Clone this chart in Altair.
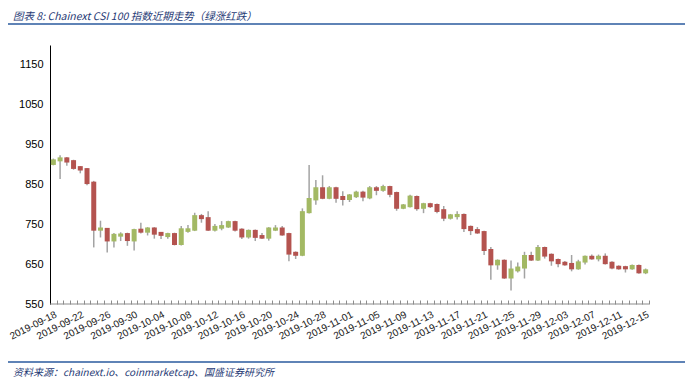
import altair as alt
import pandas as pd

# ---------------- data ----------------
dates = [d.strftime("%Y-%m-%d") for d in pd.date_range("2019-09-18", "2019-12-15")]
opens = [899, 908, 918, 911, 896, 891, 857, 734, 741, 707,
         719, 728, 707, 739, 729, 742, 731, 718, 728, 698,
         731, 734, 773, 768, 734, 739, 742, 758, 739, 717,
         736, 723, 714, 734, 742, 728, 681, 671, 778, 810,
         843, 814, 843, 821, 811, 818, 832, 815, 843, 834,
         846, 831, 789, 793, 821, 789, 803, 801, 788, 764,
         768, 776, 746, 738, 733, 688, 647, 661, 614, 632,
         639, 673, 659, 693, 676, 663, 656, 653, 637, 654,
         671, 662, 671, 656, 646, 645, 637, 648, 627]
closes = [913, 918, 905, 889, 885, 851, 734, 742, 707, 726,
          727, 708, 738, 729, 742, 724, 721, 728, 698, 740,
          740, 773, 763, 734, 746, 748, 758, 734, 717, 736,
          716, 714, 742, 742, 722, 674, 671, 783, 816, 843,
          814, 843, 814, 811, 825, 832, 817, 843, 834, 846,
          824, 789, 800, 822, 788, 803, 793, 781, 764, 775,
          776, 738, 733, 727, 683, 647, 661, 614, 639, 644,
          673, 659, 693, 669, 657, 650, 647, 637, 657, 671,
          662, 671, 650, 639, 637, 637, 648, 627, 637]
highs = [915, 923, 919, 912, 896, 891, 859, 759, 741, 728,
         730, 729, 739, 754, 743, 743, 731, 729, 729, 746,
         748, 779, 776, 783, 751, 758, 759, 759, 740, 737,
         737, 728, 743, 748, 746, 729, 682, 790, 899, 861,
         873, 846, 844, 833, 826, 834, 834, 846, 846, 849,
         847, 832, 801, 824, 822, 804, 804, 802, 796, 776,
         783, 777, 747, 743, 734, 693, 662, 662, 659, 654,
         681, 681, 698, 694, 677, 664, 658, 673, 661, 672,
         674, 674, 677, 657, 647, 646, 649, 649, 639]
lows = [898, 864, 897, 887, 878, 848, 692, 717, 679, 692,
        708, 696, 684, 727, 722, 714, 713, 714, 697, 697,
        729, 733, 754, 733, 732, 735, 741, 732, 713, 714,
        708, 713, 709, 733, 721, 657, 663, 670, 777, 799,
        813, 813, 804, 797, 806, 816, 808, 813, 823, 832,
        818, 784, 788, 792, 784, 778, 791, 778, 758, 762,
        762, 731, 723, 726, 673, 611, 636, 613, 584, 629,
        614, 658, 658, 664, 646, 642, 646, 632, 636, 649,
        661, 657, 649, 637, 636, 629, 636, 626, 625]
label_dates = dates[::4]
y_ticks = [550, 650, 750, 850, 950, 1050, 1150]

TITLE = "图表 8:  Chainext CSI 100 指数近期走势（绿涨红跌）"
SOURCE = "资料来源：chainext.io、coinmarketcap、国盛证券研究所"

df = pd.DataFrame({"date": dates, "open": opens, "close": closes,
                   "high": highs, "low": lows})

GREEN = "#A3B964"
RED = "#B4534F"
WICK = "#A3A3A3"
NAVY = "#1F3A75"
LINE = "#2A5A9E"

W, H = 599, 259

label_list = "[" + ",".join("'%s'" % d for d in label_dates) + "]"

x_enc = alt.X(
    "date:O",
    scale=alt.Scale(type="band", domain=dates, paddingInner=0, paddingOuter=0),
    axis=alt.Axis(
        title=None,
        labelExpr="indexof(%s, datum.value) >= 0 ? datum.label : ''" % label_list,
        labelAngle=-27,
        labelAlign="right",
        labelBaseline="top",
        labelFont="Liberation Sans",
        labelFontSize=10,
        labelColor="#222222",
        labelPadding=5,
        labelOverlap=False,
        tickBand="extent",
        tickSize=4,
        tickColor="#8C8C8C",
        offset=-4,
        domain=False,
    ),
)

y_scale = alt.Scale(domain=[550, 1200], nice=False, zero=False)
y_axis = alt.Axis(
    values=y_ticks, format="d", title=None, grid=False, tickSize=0,
    domainColor="black", domainWidth=1,
    labelFont="Liberation Sans", labelFontSize=11, labelColor="black",
    labelPadding=7,
)

base = alt.Chart(df)

wicks = base.mark_rule(color=WICK, strokeWidth=1.5).encode(
    x=x_enc,
    y=alt.Y("low:Q", scale=y_scale, axis=y_axis),
    y2="high:Q",
)

bodies = base.mark_bar(size=5).encode(
    x=x_enc,
    y=alt.Y("open:Q", scale=y_scale, axis=y_axis),
    y2="close:Q",
    color=alt.condition("datum.close >= datum.open", alt.value(GREEN), alt.value(RED)),
)

one = pd.DataFrame({"a": [0]})

xdomain = alt.Chart(one).mark_rule(color="#8C8C8C", strokeWidth=1).encode(
    x=alt.value(0), x2=alt.value(W), y=alt.datum(550)
)

title_txt = alt.Chart(pd.DataFrame({"t": [TITLE]})).mark_text(
    align="left", baseline="alphabetic", font="Noto Sans CJK SC",
    fontSize=10.5, fontStyle="italic", color=NAVY
).encode(text="t:N", x=alt.value(-37), y=alt.value(-25))

source_txt = alt.Chart(pd.DataFrame({"t": [SOURCE]})).mark_text(
    align="left", baseline="alphabetic", font="Noto Sans CJK SC",
    fontSize=10, fontStyle="italic", color=NAVY
).encode(text="t:N", x=alt.value(-37), y=alt.value(331))

top_line = alt.Chart(one).mark_rule(color=LINE, strokeWidth=1.5).encode(
    x=alt.value(-42), x2=alt.value(W + 36), y=alt.value(-21)
)
bottom_line = alt.Chart(one).mark_rule(color=LINE, strokeWidth=1.5).encode(
    x=alt.value(-42), x2=alt.value(W + 36), y=alt.value(317)
)

chart = alt.layer(
    xdomain, wicks, bodies, title_txt, source_txt, top_line, bottom_line
).properties(
    width=W, height=H,
    autosize=alt.AutoSizeParams(type="none"),
    padding={"left": 42, "top": 37, "right": 36, "bottom": 75},
).configure_view(stroke=None)

chart.save("out.html", embed_options={"renderer": "svg", "actions": False})
